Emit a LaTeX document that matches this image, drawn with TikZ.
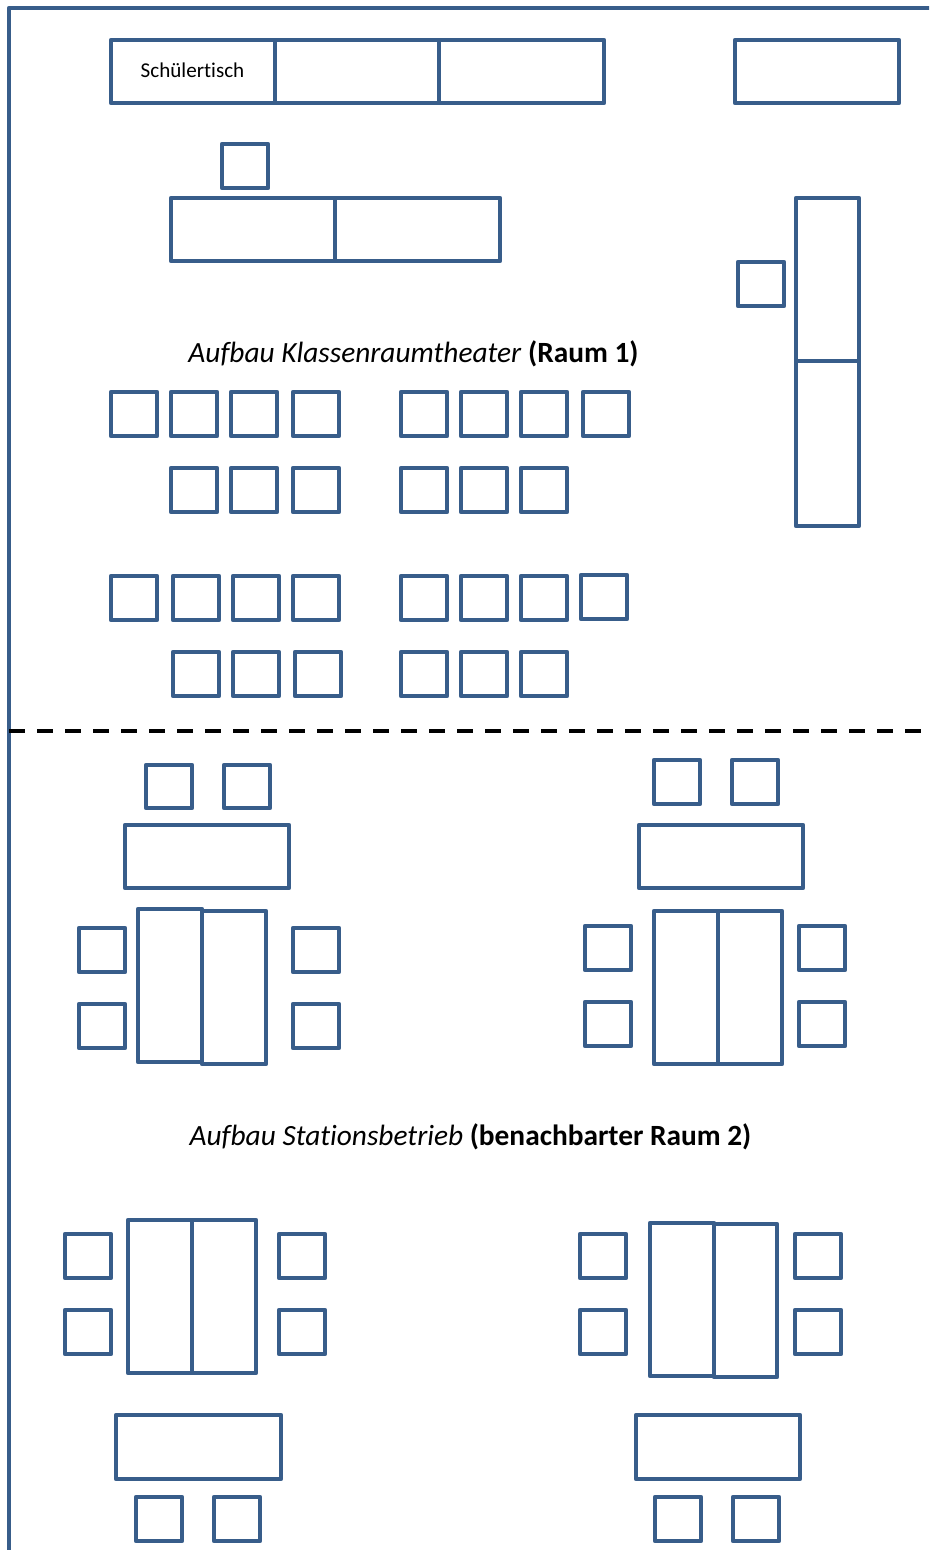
\documentclass[tikz,border=0pt]{standalone}
\usepackage{fontspec}
\setmainfont[Ligatures=CommonOff]{Carlito}
\definecolor{boxblue}{HTML}{385D8A}
\newcounter{bxn}
\tikzset{
  deskbox/.style={draw=boxblue,line width=4.5pt,line join=round,inner sep=0pt,outer sep=0pt,anchor=north west},
  framewall/.style={draw=boxblue,line width=4.6pt},
  divider/.style={draw=black,line width=4pt,dash pattern=on 16pt off 12pt},
  heading/.style={inner sep=0pt,font=\fontsize{29.35}{34}\selectfont,text=black},
  tablelabel/.style={inner sep=0pt,font=\fontsize{21.1}{25}\selectfont,text=black}
}
\newcommand{\bx}[4]{%
  \stepcounter{bxn}%
  \pgfmathsetmacro{\bxw}{#3-#1}\pgfmathsetmacro{\bxh}{#4-#2}%
  \node[deskbox,minimum width=\bxw pt,minimum height=\bxh pt] (b\arabic{bxn}) at (#1,#2) {};%
}
\newcommand{\row}[3]{\foreach \xa in {#3} {\pgfmathsetmacro{\xb}{\xa+46}\bx{\xa}{#1}{\xb}{#2}}}
\begin{document}
\begin{tikzpicture}[x=1pt,y=-1pt]
\useasboundingbox (0,0) rectangle (929,1550);
\clip (0,0) rectangle (929,1550);
\fill[white] (0,0) rectangle (929,1550);
% room outline and divider
\coordinate (wallB) at (9,1552);
\coordinate (wallC) at (9,8);
\coordinate (wallR) at (931,8);
\draw[framewall,line join=round] (wallB) -- (wallC) -- (wallR);
\coordinate (divL) at (9,730.5);
\coordinate (divR) at (922,730.5);
\draw[divider] (divL) -- (divR);
% room 1 tables
\bx{111}{40}{275}{103}
\node[tablelabel] (tlabel) at (192.5,70.5) {Schülertisch};
\bx{275}{40}{439}{103}
\bx{439}{40}{604}{103}
\bx{735}{40}{899}{103}
\bx{171}{198}{335}{261}
\bx{335}{198}{500}{261}
\bx{796}{198}{859}{361}
\bx{796}{361}{859}{526}
\bx{222}{144}{268}{188}
\bx{738}{262}{784}{306}
\node[heading] (title1) at (413.5,353.5) {\textit{Aufbau Klassenraumtheater} \textbf{(Raum 1)}};
% room 1 chairs
\row{392}{436}{111,171,231,293,401,461,521,583}
\row{468}{512}{171,231,293,401,461,521}
\row{576}{620}{111,173,233,293,401,461,521}
\bx{581}{575}{627}{619}
\row{652}{696}{173,233,295,401,461,521}
% group top left
\row{765}{808}{146,224}
\bx{125}{825}{289}{888}
\bx{138}{909}{202}{1062}
\bx{202}{911}{266}{1064}
\row{928}{972}{79,293}
\row{1004}{1048}{79,293}
% group top right
\row{760}{804}{654,732}
\bx{639}{825}{803}{888}
\bx{654}{911}{718}{1064}
\bx{718}{911}{782}{1064}
\row{926}{970}{585,799}
\row{1002}{1046}{585,799}
\node[heading] (title2) at (470.5,1137) {\textit{Aufbau Stationsbetrieb} \textbf{(benachbarter Raum 2)}};
% group bottom left
\bx{128}{1220}{192}{1373}
\bx{192}{1220}{256}{1373}
\row{1234}{1278}{65,279}
\row{1310}{1354}{65,279}
\bx{116}{1415}{281}{1479}
\row{1497}{1541}{136,214}
% group bottom right
\bx{650}{1223}{714}{1376}
\bx{714}{1224}{777}{1377}
\row{1234}{1278}{580,795}
\row{1310}{1354}{580,795}
\bx{636}{1415}{800}{1479}
\row{1497}{1541}{655,733}
\end{tikzpicture}
\end{document}
